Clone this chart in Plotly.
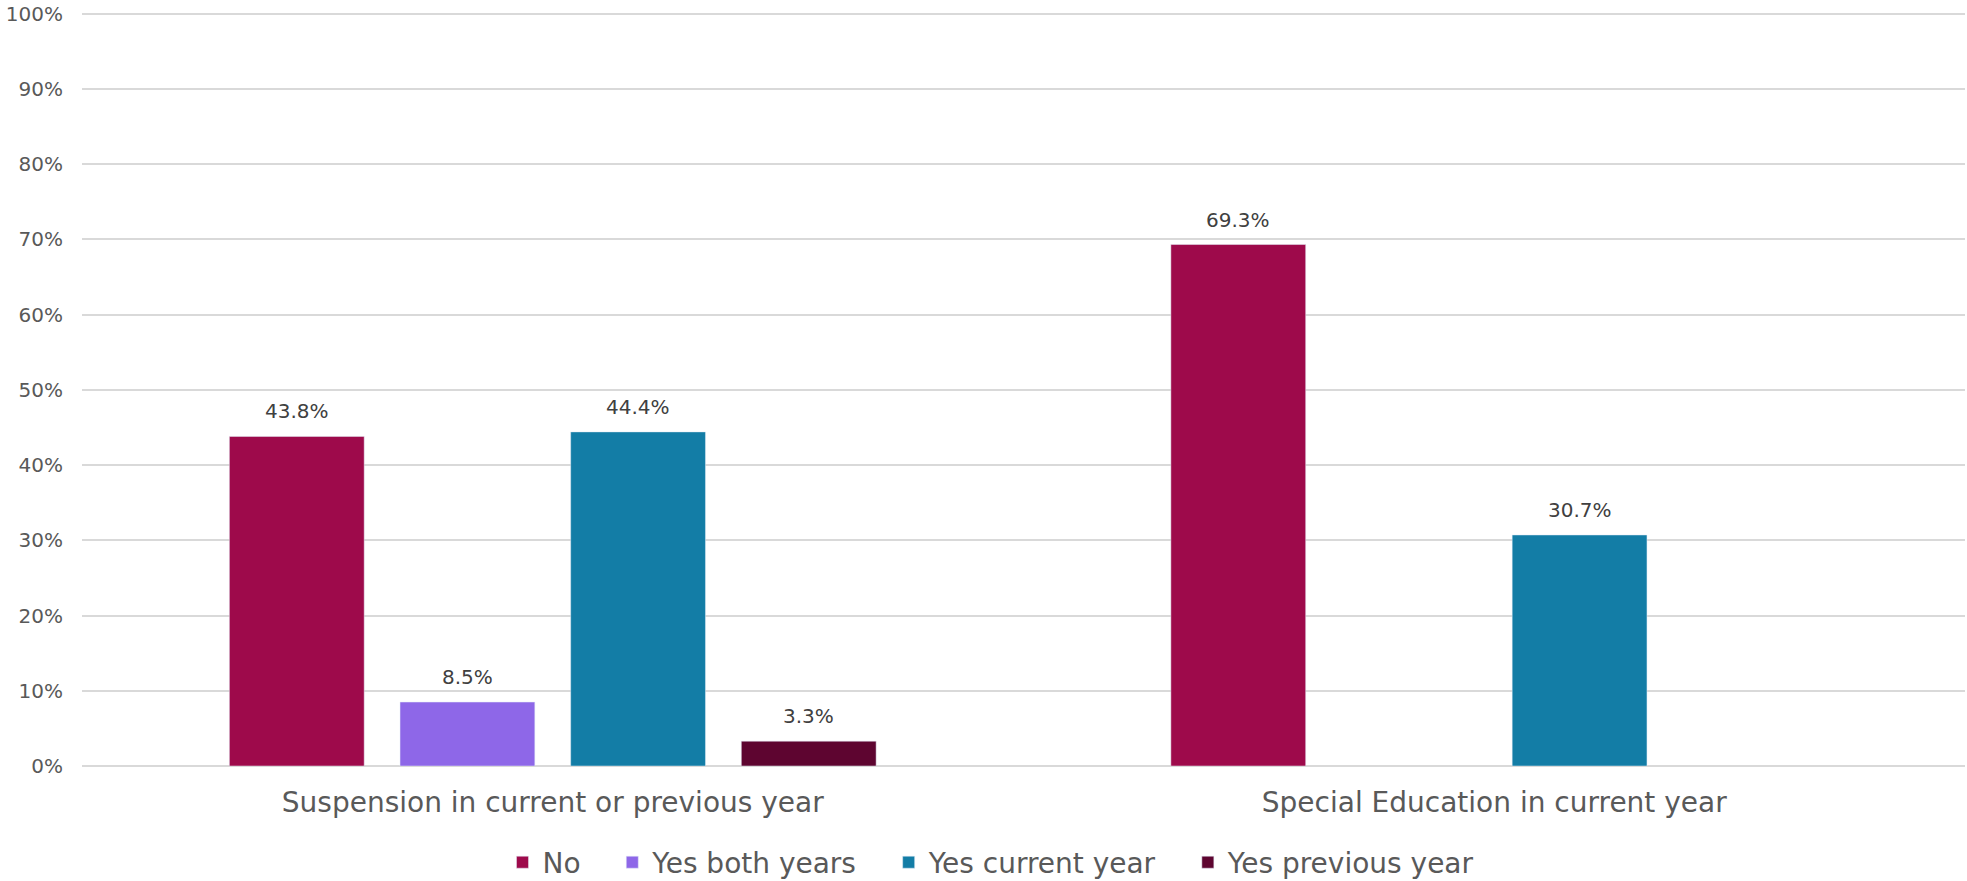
import plotly.graph_objects as go

categories = ["Suspension in current or previous year", "Special Education in current year"]
series_names = ["No", "Yes both years", "Yes current year", "Yes previous year"]
values_no = [43.8, 69.3]
values_yes_both = [8.5, None]
values_yes_current = [44.4, 30.7]
values_yes_previous = [3.3, None]
colors = ["#9E0A4B", "#8E67E8", "#137DA6", "#5E0530"]
y_ticks = [0, 10, 20, 30, 40, 50, 60, 70, 80, 90, 100]
y_ticktext = [f"{v}%" for v in y_ticks]

FONT = "'DejaVu Sans', sans-serif"
TEXT = "#595959"
BARGAP = 0.275
BARGROUPGAP = 0.21
PAD = "\u00a0" * 3  # extra spacing between legend entries

all_series = [values_no, values_yes_both, values_yes_current, values_yes_previous]

fig = go.Figure()
for k, (name, vals, col) in enumerate(zip(series_names, all_series, colors)):
    label = name + (PAD if k < len(series_names) - 1 else "")
    fig.add_trace(go.Bar(x=categories, y=vals, name=label, marker_color=col,
                         hovertemplate=name + ": %{y:.1f}%<extra></extra>"))

# data labels above the bars, aligned with each bar's slot in its group
n = len(all_series)
slot = (1 - BARGAP) / n
for i, vals in enumerate(all_series):
    offset = -(1 - BARGAP) / 2 + slot * (i + 0.5)
    for ci, v in enumerate(vals):
        if v is None:
            continue
        fig.add_annotation(x=ci + offset, y=v, xref="x", yref="y", text=f"{v:.1f}%",
                           showarrow=False, yanchor="bottom", yshift=11,
                           font=dict(size=20, color="#404040", family=FONT))

fig.update_layout(
    width=1967, height=881,
    barmode="group", bargap=BARGAP, bargroupgap=BARGROUPGAP,
    plot_bgcolor="white", paper_bgcolor="white",
    margin=dict(l=82, r=2, t=12, b=115, autoexpand=False),
    font=dict(family=FONT, color=TEXT, size=20),
    legend=dict(orientation="h", x=0.483, xanchor="center", yref="container", y=0.021,
                yanchor="middle", font=dict(size=28, color=TEXT), itemwidth=30,
                traceorder="normal"),
    xaxis=dict(showgrid=False, showline=False, ticks="", tickfont=dict(size=28, color=TEXT),
               ticklabelstandoff=17, automargin=False),
    yaxis=dict(range=[0, 100.2], tickmode="array", tickvals=y_ticks, ticktext=y_ticktext,
               showgrid=True, gridcolor="#D9D9D9", gridwidth=2, zeroline=True,
               zerolinecolor="#D9D9D9", zerolinewidth=2, showline=False,
               tickfont=dict(size=20, color=TEXT), ticklabelstandoff=18, automargin=False),
)

fig.write_html("out.html", config={"displayModeBar": False},
               post_script="document.body.style.margin='0px';document.body.style.overflow='hidden';")
